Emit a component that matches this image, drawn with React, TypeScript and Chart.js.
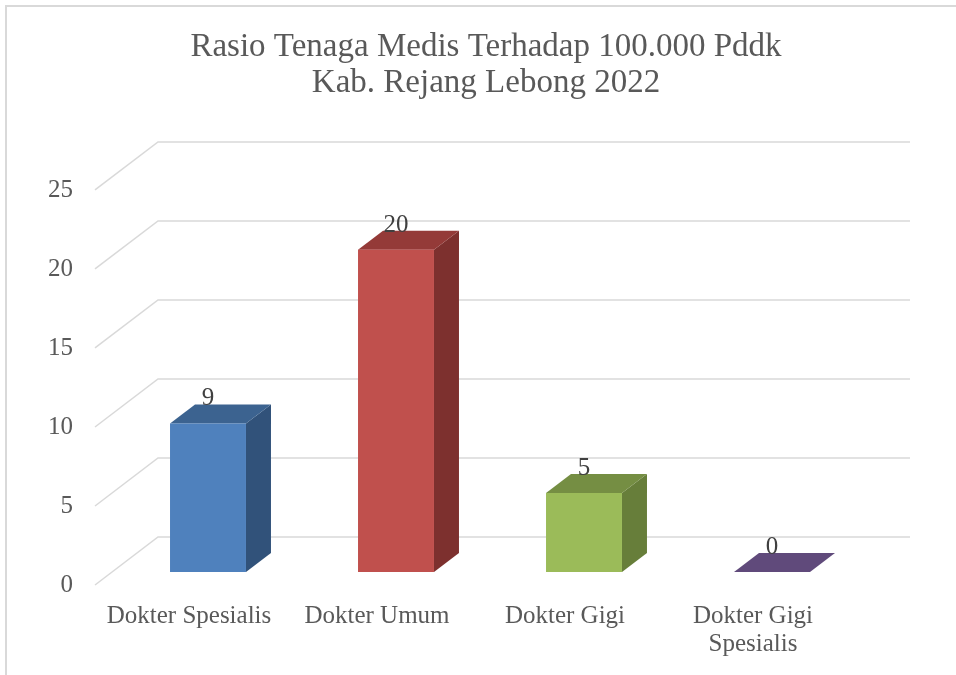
import React, { useEffect, useRef } from "react";
import { Chart, registerables } from "chart.js";

Chart.register(...registerables);

const categories: (string | string[])[] = [
  "Dokter Spesialis",
  "Dokter Umum",
  "Dokter Gigi",
  ["Dokter Gigi", "Spesialis"],
];
const values: number[] = [9.4, 20.4, 5.0, 0];
const frontColors: string[] = ["#4F81BD", "#C0504D", "#9BBB59", "#8064A2"];
const topColors: string[] = ["#3C6390", "#943A38", "#758E43", "#604A7B"];
const sideColors: string[] = ["#31527A", "#7D302E", "#677E3A", "#523F69"];
const titleLines: string[] = ["Rasio Tenaga Medis Terhadap 100.000 Pddk", "Kab. Rejang Lebong 2022"];
const yMin = 0;
const yMax = 25;
const yStep = 5;

const FONT = "'Liberation Serif', 'DejaVu Serif', serif";
// 3D projection offsets (pixels)
const WALL_DX = 63;
const WALL_DY = -48;
const BAR_DX = 19;
const BAR_DY = -13;
const DEPTH_DX = 25;
const DEPTH_DY = -19;
const GRID_COLOR = "#D9D9D9";

const threeD = {
  id: "threeD",
  beforeDraw(chart: any) {
    const ctx = chart.ctx;
    ctx.save();
    ctx.fillStyle = "#ffffff";
    ctx.fillRect(0, 0, chart.width, chart.height);
    ctx.strokeStyle = GRID_COLOR;
    ctx.lineWidth = 2;
    ctx.beginPath();
    ctx.moveTo(6, chart.height);
    ctx.lineTo(6, 6);
    ctx.lineTo(chart.width, 6);
    ctx.stroke();
    ctx.restore();
  },
  beforeDatasetsDraw(chart: any) {
    const ctx = chart.ctx;
    const ys = chart.scales.y;
    const area = chart.chartArea;
    ctx.save();
    ctx.strokeStyle = GRID_COLOR;
    ctx.lineWidth = 1.5;
    ys.ticks.forEach((t: any) => {
      const py = ys.getPixelForValue(t.value);
      ctx.beginPath();
      ctx.moveTo(area.left, py);
      ctx.lineTo(area.left + WALL_DX, py + WALL_DY);
      ctx.lineTo(area.right + WALL_DX, py + WALL_DY);
      ctx.stroke();
    });
    ctx.restore();
  },
  beforeDatasetDraw() {
    return false;
  },
  afterDatasetsDraw(chart: any) {
    const ctx = chart.ctx;
    const meta = chart.getDatasetMeta(0);
    ctx.save();
    meta.data.forEach((el: any, i: number) => {
      const p = el.getProps(["x", "y", "base", "width"], true);
      const l = p.x - p.width / 2 + BAR_DX;
      const r = p.x + p.width / 2 + BAR_DX;
      const top = p.y + BAR_DY;
      const bot = p.base + BAR_DY;
      ctx.fillStyle = sideColors[i];
      ctx.beginPath();
      ctx.moveTo(r, top);
      ctx.lineTo(r + DEPTH_DX, top + DEPTH_DY);
      ctx.lineTo(r + DEPTH_DX, bot + DEPTH_DY);
      ctx.lineTo(r, bot);
      ctx.closePath();
      ctx.fill();
      ctx.fillStyle = topColors[i];
      ctx.beginPath();
      ctx.moveTo(l, top);
      ctx.lineTo(l + DEPTH_DX, top + DEPTH_DY);
      ctx.lineTo(r + DEPTH_DX, top + DEPTH_DY);
      ctx.lineTo(r, top);
      ctx.closePath();
      ctx.fill();
      if (bot - top > 0.5) {
        ctx.fillStyle = frontColors[i];
        ctx.fillRect(l, top, r - l, bot - top);
      }
      ctx.fillStyle = "#404040";
      ctx.font = `25px ${FONT}`;
      ctx.textAlign = "center";
      ctx.textBaseline = "alphabetic";
      ctx.fillText(values[i].toFixed(0), (l + r) / 2, top + DEPTH_DY + 1);
    });
    ctx.restore();
  },
};

export default function App() {
  const ref = useRef<HTMLCanvasElement | null>(null);
  useEffect(() => {
    if (!ref.current) return;
    const chart = new Chart(ref.current, {
      type: "bar",
      data: {
        labels: categories,
        datasets: [
          {
            data: values,
            backgroundColor: frontColors,
            categoryPercentage: 1,
            barPercentage: 0.404,
          },
        ],
      },
      options: {
        responsive: false,
        animation: false,
        events: [],
        layout: { padding: { left: 16, right: 0, top: 0, bottom: 0 } },
        plugins: {
          legend: { display: false },
          tooltip: { enabled: false },
          title: {
            display: true,
            text: titleLines,
            color: "#595959",
            font: { family: FONT, size: 33, weight: "normal", lineHeight: 1.09 },
            padding: { top: 29, bottom: 89 },
          },
        },
        scales: {
          x: {
            grid: { display: false, drawTicks: false },
            border: { display: false },
            ticks: {
              color: "#595959",
              font: { family: FONT, size: 25, lineHeight: 1.12 },
              padding: 17,
              maxRotation: 0,
              autoSkip: false,
            },
            afterFit(scale: any) {
              scale.height = 90;
            },
          },
          y: {
            min: yMin,
            max: yMax,
            grid: { display: false, drawTicks: false },
            border: { display: false },
            ticks: {
              stepSize: yStep,
              color: "#595959",
              font: { family: FONT, size: 25 },
              padding: 22,
            },
            afterFit(scale: any) {
              scale.width = 79;
            },
          },
          y2: {
            position: "right",
            grid: { display: false, drawTicks: false },
            border: { display: false },
            ticks: { display: false },
            afterFit(scale: any) {
              scale.width = 109;
            },
          },
        },
      },
      plugins: [threeD],
    });
    return () => chart.destroy();
  }, []);
  return (
    <div style={{ position: "fixed", left: 0, top: 0, width: 956, height: 675, background: "#fff" }}>
      <canvas ref={ref} width={956} height={675} />
    </div>
  );
}
